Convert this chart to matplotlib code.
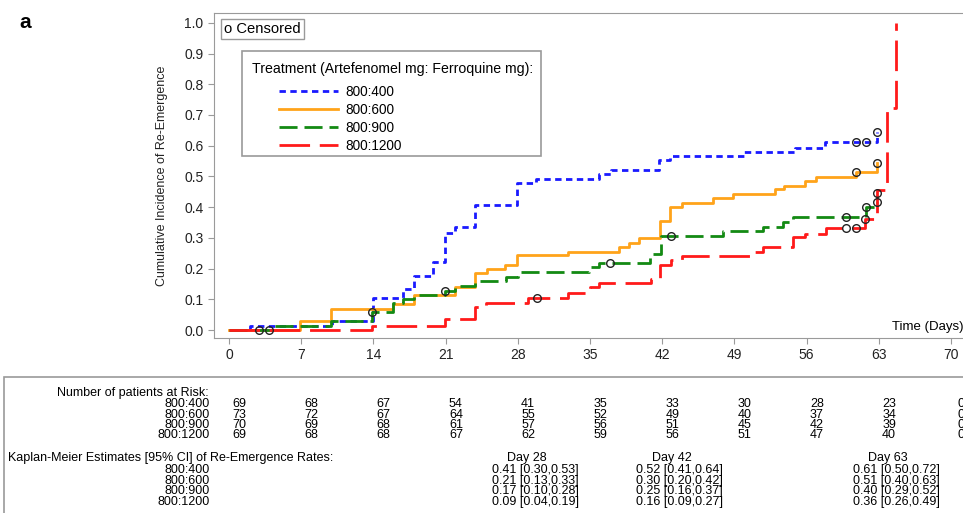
import matplotlib
matplotlib.use("Agg")
import matplotlib.pyplot as plt
from matplotlib.patches import Rectangle
from matplotlib.transforms import blended_transform_factory

plt.rcParams['font.family'] = ['Liberation Sans', 'DejaVu Sans']

# step curves (time in days, cumulative incidence)
blue_t = [0, 2, 10, 14, 16.9, 17.9, 19.8, 20.9, 21.9, 23.9, 27.9, 29.8, 35.9, 37, 41.7, 42.8, 49.9, 54.9, 57.8, 62.8]
blue_y = [0, 0.0145, 0.029, 0.103, 0.133, 0.175, 0.221, 0.316, 0.334, 0.408, 0.477, 0.493, 0.508, 0.522, 0.553, 0.566, 0.58, 0.592, 0.611, 0.645]

orange_t = [0, 6.9, 9.9, 15.9, 17.9, 21.9, 23.9, 25, 26.8, 27.9, 32.9, 37.8, 38.8, 39.8, 41.8, 42.8, 43.9, 46.9, 48.9, 52.9, 53.8, 55.8, 56.9, 60.8, 62.8]
orange_y = [0, 0.03, 0.07, 0.085, 0.114, 0.141, 0.184, 0.2, 0.213, 0.243, 0.253, 0.271, 0.284, 0.298, 0.355, 0.399, 0.412, 0.429, 0.442, 0.458, 0.47, 0.486, 0.499, 0.513, 0.545]

green_t = [0, 4.5, 9.9, 13.9, 15.9, 16.9, 17.9, 20.9, 21.9, 23.9, 26.9, 28, 34.9, 35.9, 40.8, 41.9, 47.9, 51.8, 53.7, 54.7, 61.8, 62.8]
green_y = [0, 0.0143, 0.029, 0.058, 0.087, 0.101, 0.114, 0.128, 0.143, 0.16, 0.174, 0.189, 0.206, 0.219, 0.249, 0.307, 0.322, 0.336, 0.352, 0.367, 0.399, 0.417]

red_t = [0, 13.9, 20.9, 23.9, 24.9, 29, 32.9, 35, 35.9, 40.9, 41.8, 42.9, 43.9, 50.8, 51.8, 54.7, 55.8, 57.9, 61.7, 62.8, 63.8, 64.7]
red_y = [0, 0.014, 0.036, 0.074, 0.088, 0.103, 0.119, 0.141, 0.152, 0.166, 0.212, 0.227, 0.242, 0.255, 0.269, 0.304, 0.313, 0.331, 0.363, 0.455, 0.722, 1.0]

# censored observations
cens_t = [2.9, 3.9, 13.9, 20.9, 29.9, 36.9, 42.9, 60.8, 61.8, 62.8, 60.8, 62.8, 59.8, 61.8, 62.8, 59.8, 60.8, 61.7, 62.8]
cens_y = [0, 0, 0.058, 0.127, 0.103, 0.219, 0.307, 0.611, 0.611, 0.645, 0.513, 0.545, 0.367, 0.399, 0.417, 0.331, 0.331, 0.363, 0.445]

groups = ["800:400", "800:600", "800:900", "800:1200"]
colors = ["#1a1aff", "#ffa31a", "#138a13", "#ff1a1a"]
styles = [(0, (2.3, 1.6)), "-", (0, (6.5, 2.5)), (0, (11, 3.5))]

risk_days = [0, 7, 14, 21, 28, 35, 42, 49, 56, 63, 70]
at_risk = [
    [69, 68, 67, 54, 41, 35, 33, 30, 28, 23, 0],
    [73, 72, 67, 64, 55, 52, 49, 40, 37, 34, 0],
    [70, 69, 68, 61, 57, 56, 51, 45, 42, 39, 0],
    [69, 68, 68, 67, 62, 59, 56, 51, 47, 40, 0],
]
km_days = [28, 42, 63]
km_est = [
    ["0.41 [0.30,0.53]", "0.52 [0.41,0.64]", "0.61 [0.50,0.72]"],
    ["0.21 [0.13,0.33]", "0.30 [0.20,0.42]", "0.51 [0.40,0.63]"],
    ["0.17 [0.10,0.28]", "0.25 [0.16,0.37]", "0.40 [0.29,0.52]"],
    ["0.09 [0.04,0.19]", "0.16 [0.09,0.27]", "0.36 [0.26,0.49]"],
]

W, H = 963, 513
fig = plt.figure(figsize=(W / 100, H / 100), dpi=100)


def fx(px):
    return px / W


def fy(py):
    return 1 - py / H


ax = fig.add_axes([fx(214), fy(338), fx(965 - 214), fy(13) - fy(338)])
ax.set_xlim(-1.454, 71.36)
ax.set_ylim(-0.026, 1.032)

lines = []
for t, y, c, ls in zip([blue_t, orange_t, green_t, red_t], [blue_y, orange_y, green_y, red_y], colors, styles):
    ln, = ax.step(t, y, where="post", color=c, linestyle=ls, lw=2.0)
    lines.append(ln)
ax.plot(cens_t, cens_y, "o", ms=5.5, mfc="none", mec="#222222", mew=1.0, zorder=5)

gray = "#9a9a9a"
for side in ["left", "bottom", "top"]:
    ax.spines[side].set_color(gray)
ax.spines["right"].set_visible(False)
ax.set_xticks(risk_days)
ax.set_yticks([i / 10 for i in range(11)])
ax.set_yticklabels(["%.1f" % (i / 10) for i in range(11)])
ax.tick_params(direction="out", length=4, color=gray, labelsize=10, labelcolor="#222222")
ax.set_ylabel("Cumulative Incidence of Re-Emergence", fontsize=9, color="#222222", labelpad=12)
ax.text(0.998, 0.035, "Time (Days)", transform=ax.transAxes, ha="right", va="center", fontsize=9.5)

fig.text(fx(25), fy(22), "a", fontsize=15, fontweight="bold", ha="center", va="center")
fig.text(fx(224), fy(29), "o Censored", fontsize=10.6, ha="left", va="center",
         bbox=dict(boxstyle="square,pad=0.2", fc="white", ec=gray, lw=1))

fig.add_artist(Rectangle((fx(241.7), fy(155.7)), fx(541 - 241.7), fy(50.7) - fy(155.7),
                         transform=fig.transFigure, fill=False, ec=gray, lw=1.2))
fig.text(fx(252), fy(69), "Treatment (Artefenomel mg: Ferroquine mg):", fontsize=10.2, ha="left", va="center")
fig.legend(lines, groups, loc="upper left", bbox_to_anchor=(fx(279), fy(85)), bbox_transform=fig.transFigure,
           frameon=False, fontsize=9.8, handlelength=4.3, handletextpad=0.6, labelspacing=0.3,
           borderpad=0, borderaxespad=0)

# table below the plot
fig.add_artist(Rectangle((fx(4), fy(520)), fx(970), fy(377) - fy(520),
                         transform=fig.transFigure, fill=False, ec=gray, lw=1.2))
tr = blended_transform_factory(ax.transData, fig.transFigure)
ts = 9
fig.text(fx(209), fy(393), "Number of patients at Risk:", fontsize=ts, ha="right", va="center")
risk_rows = [404, 414.5, 425, 435.5]
for g, row, yp in zip(groups, at_risk, risk_rows):
    fig.text(fx(210), fy(yp), g, fontsize=ts, ha="right", va="center")
    for d, n in zip(risk_days, row):
        fig.text(d + 1.0, fy(yp), str(n), fontsize=ts, ha="center", va="center", transform=tr)

fig.text(fx(8), fy(458), "Kaplan-Meier Estimates [95% CI] of Re-Emergence Rates:", fontsize=ts, ha="left", va="center")
km_rows = [470, 480.7, 491.3, 502]
for d in km_days:
    fig.text(d + 0.9, fy(458), "Day %d" % d, fontsize=ts, ha="center", va="center", transform=tr)
for g, row, yp in zip(groups, km_est, km_rows):
    fig.text(fx(210), fy(yp), g, fontsize=ts, ha="right", va="center")
    for d, s in zip(km_days, row):
        fig.text(d + 1.7, fy(yp), s, fontsize=ts, ha="center", va="center", transform=tr)

fig.savefig("out.png", dpi=100)
